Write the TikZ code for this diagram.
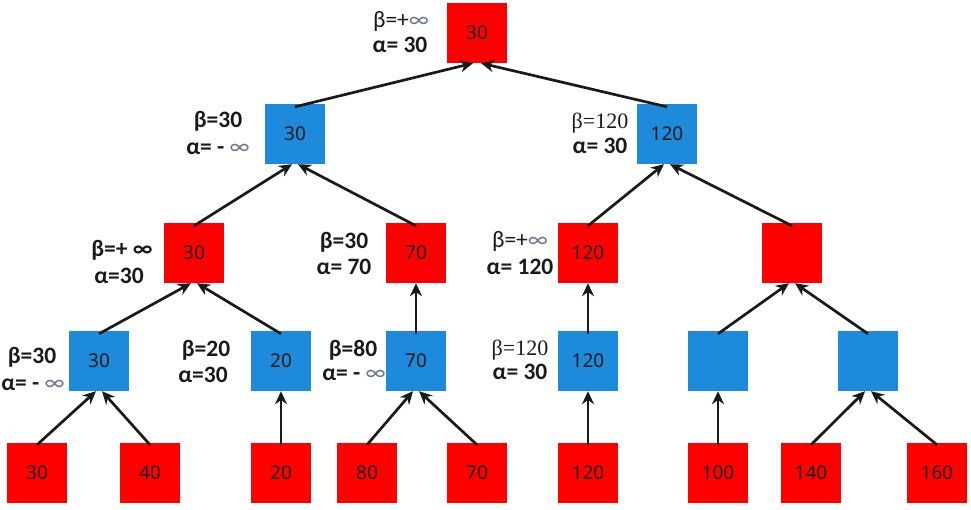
\documentclass[tikz,border=0pt]{standalone}
\usepackage{fontspec}
\setmainfont{Carlito}
\newfontfamily\numfont{Noto Sans}
\newfontfamily\serfont{Liberation Serif}
\usetikzlibrary{arrows.meta}
\definecolor{tred}{HTML}{FF0000}
\definecolor{tblue}{HTML}{1E8ADB}
\definecolor{tink}{HTML}{1A1A1A}
\definecolor{infc}{HTML}{6A7890}
\newcommand{\thininf}{{\fontseries{m}\selectfont\color{infc}∞}}
\tikzset{
  maxbox/.style={fill=tred, minimum size=60pt, inner sep=0pt, font=\numfont\fontsize{19}{19}\selectfont, text=tink},
  minbox/.style={fill=tblue, minimum size=60pt, inner sep=0pt, font=\numfont\fontsize{19}{19}\selectfont, text=tink},
  lab/.style={font=\bfseries\fontsize{23.5}{23.5}\selectfont, text=tink, inner sep=0pt},
  slab/.style={font=\serfont\fontsize{22}{22}\selectfont, text=tink, inner sep=0pt},
  conn/.style={draw=tink, line width=2.7pt, -{Stealth[length=13pt,width=12pt]}},
}
\begin{document}
\begin{tikzpicture}[x=1pt,y=-1pt]
\useasboundingbox (0,0) rectangle (971,509);
% level 0
\node[maxbox] (r) at (477,33) {30};
% level 1
\node[minbox] (a) at (295,134) {30};
\node[minbox] (b) at (667,134) {120};
% level 2
\node[maxbox] (a1) at (194,253) {30};
\node[maxbox] (a2) at (416,253) {70};
\node[maxbox] (b1) at (588,253) {120};
\node[maxbox] (b2) at (792,253) {};
% level 3
\node[minbox] (c1) at (99,361) {30};
\node[minbox] (c2) at (281,361) {20};
\node[minbox] (c3) at (416,361) {70};
\node[minbox] (c4) at (588,361) {120};
\node[minbox] (c5) at (718,361) {};
\node[minbox] (c6) at (868,361) {};
% level 4
\node[maxbox] (d1) at (37,473) {30};
\node[maxbox] (d2) at (150,473) {40};
\node[maxbox] (d3) at (281,473) {20};
\node[maxbox] (d4) at (367,473) {80};
\node[maxbox] (d5) at (477,473) {70};
\node[maxbox] (d6) at (588,473) {120};
\node[maxbox] (d7) at (718,473) {100};
\node[maxbox] (d8) at (811,473) {140};
\node[maxbox] (d9) at (937,473) {160};
% connectors
\draw[conn] ([yshift=-3pt]a.north) -- ([xshift=-4pt]r.south);
\draw[conn] ([yshift=-3pt]b.north) -- ([xshift=4pt]r.south);
\draw[conn] ([yshift=-3pt]a1.north) -- ([xshift=-3pt]a.south);
\draw[conn] ([yshift=-3pt]a2.north) -- ([xshift=3pt]a.south);
\draw[conn] ([yshift=-3pt]b1.north) -- ([xshift=-3pt]b.south);
\draw[conn] ([yshift=-3pt]b2.north) -- ([xshift=3pt]b.south);
\draw[conn] ([yshift=-3pt]c1.north) -- ([xshift=-3pt]a1.south);
\draw[conn] ([yshift=-3pt]c2.north) -- ([xshift=3pt]a1.south);
\draw[conn] ([yshift=-3pt]c3.north) -- (a2.south);
\draw[conn] ([yshift=-3pt]c4.north) -- (b1.south);
\draw[conn] ([yshift=-3pt]c5.north) -- ([xshift=-3pt]b2.south);
\draw[conn] ([yshift=-3pt]c6.north) -- ([xshift=3pt]b2.south);
\draw[conn] ([yshift=-2pt]d1.north) -- ([xshift=-3pt]c1.south);
\draw[conn] ([yshift=-2pt]d2.north) -- ([xshift=3pt]c1.south);
\draw[conn] ([yshift=-2pt]d3.north) -- (c2.south);
\draw[conn] ([yshift=-2pt]d4.north) -- ([xshift=-3pt]c3.south);
\draw[conn] ([yshift=-2pt]d5.north) -- ([xshift=3pt]c3.south);
\draw[conn] ([yshift=-2pt]d6.north) -- (c4.south);
\draw[conn] ([yshift=-2pt]d7.north) -- (c5.south);
\draw[conn] ([yshift=-2pt]d8.north) -- ([xshift=-3pt]c6.south);
\draw[conn] ([yshift=-2pt]d9.north) -- ([xshift=3pt]c6.south);
% labels
\node[lab] (lr1) at (401,22) {{\mdseries β=+}\thininf};
\node[lab] (lr2) at (400,45) {α= 30};
\node[lab] (la1) at (218,121) {β=30};
\node[lab] (la2) at (218,149) {α= - \thininf};
\node[slab] (lb1) at (600,123) {β=120};
\node[lab] (lb2) at (600,146) {α= 30};
\node[lab] (la11) at (122,250) {β=+ ∞};
\node[lab] (la12) at (119,276) {α=30};
\node[lab] (la21) at (344,242) {β=30};
\node[lab] (la22) at (344,267) {α= 70};
\node[lab] (lb11) at (520,242) {{\mdseries β=+}\thininf};
\node[lab] (lb12) at (520,267) {α= 120};
\node[lab] (lc11) at (32,357) {β=30};
\node[lab] (lc12) at (33,385) {α= - \thininf};
\node[lab] (lc21) at (206,350) {β=20};
\node[lab] (lc22) at (203,375) {α=30};
\node[lab] (lc31) at (353,350) {β=80};
\node[lab] (lc32) at (354,375) {α= - \thininf};
\node[slab] (lc41) at (520,350) {β=120};
\node[lab] (lc42) at (520,372) {α= 30};
\end{tikzpicture}
\end{document}
